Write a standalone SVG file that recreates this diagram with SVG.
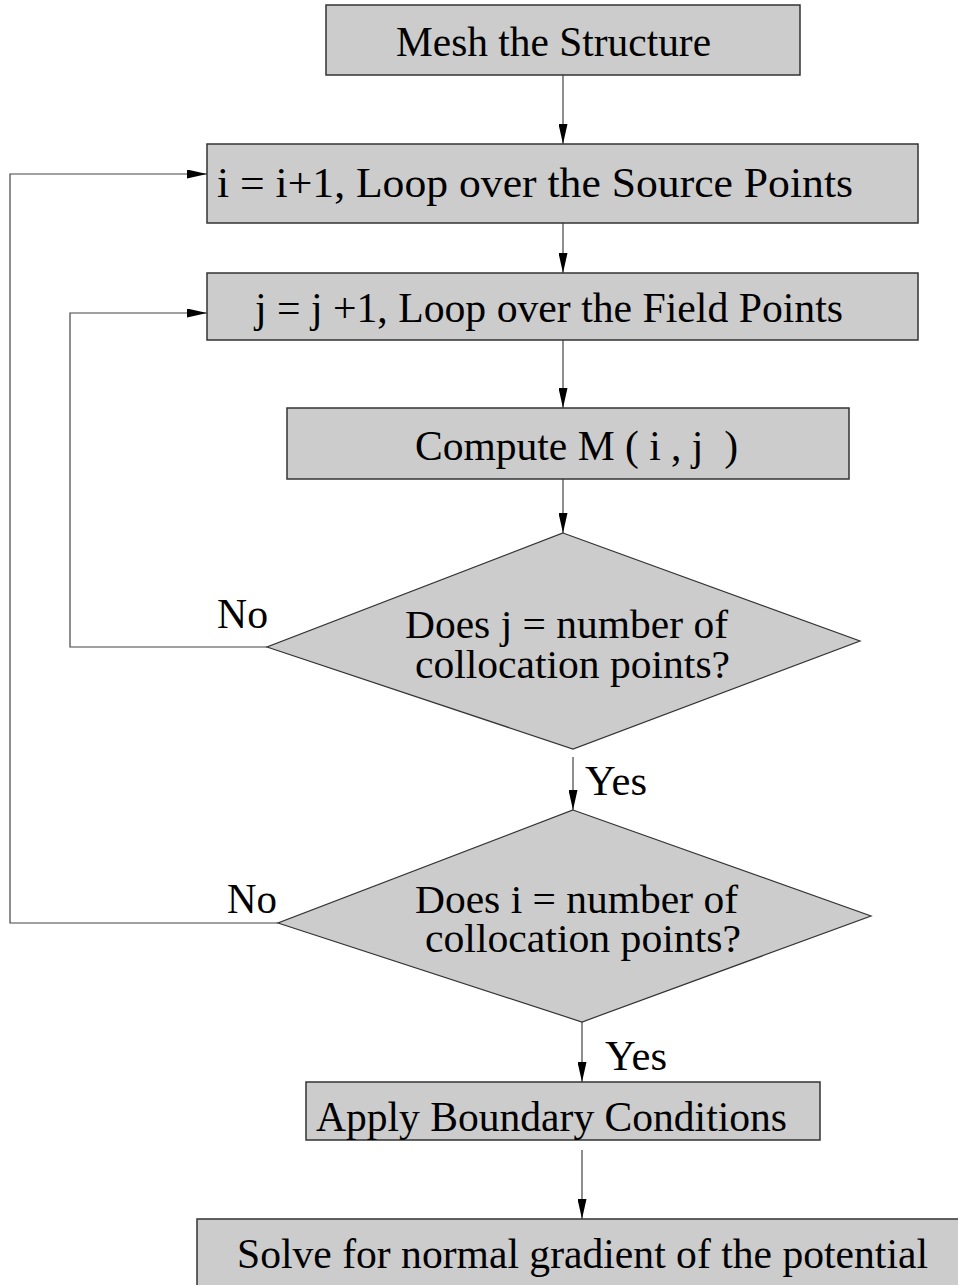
<svg xmlns="http://www.w3.org/2000/svg" width="958" height="1285" viewBox="0 0 958 1285">
  <style>
    .box { fill: #cccccc; stroke: #333333; stroke-width: 1.5; }
    .dia { fill: #cccccc; stroke: #333333; stroke-width: 1.2; }
    .lbl { font-family: "Liberation Serif", "Times New Roman", serif; font-size: 42px; fill: #000000; white-space: pre; }
    .q { font-size: 39px; }
    .edge { fill: none; stroke: #444444; stroke-width: 1.2; }
  </style>
  <defs>
    <marker id="arrow" viewBox="0 0 20 9" refX="20" refY="4.5" markerWidth="20" markerHeight="9" markerUnits="userSpaceOnUse" orient="auto">
      <path d="M0,0 L20,4.5 L0,9 Z" fill="#000000"/>
    </marker>
  </defs>
  <rect width="958" height="1285" fill="#ffffff"/>

  <!-- connectors -->
  <g id="connectors">
    <path class="edge" d="M563,75 L563,144" marker-end="url(#arrow)"/>
    <path class="edge" d="M563,223 L563,273" marker-end="url(#arrow)"/>
    <path class="edge" d="M563,340 L563,408" marker-end="url(#arrow)"/>
    <path class="edge" d="M563,479 L563,533" marker-end="url(#arrow)"/>
    <path class="edge" d="M267,647 L70,647 L70,313 L207,313" marker-end="url(#arrow)"/>
    <path class="edge" d="M573,757 L573,810" marker-end="url(#arrow)"/>
    <path class="edge" d="M278,923 L10,923 L10,174 L207,174" marker-end="url(#arrow)"/>
    <path class="edge" d="M582,1022 L582,1082" marker-end="url(#arrow)"/>
    <path class="edge" d="M582,1150 L582,1219" marker-end="url(#arrow)"/>
  </g>

  <!-- process steps -->
  <g id="mesh">
    <rect class="box" x="326" y="5" width="474" height="70"/>
    <text class="lbl" x="396" y="56" textLength="315" lengthAdjust="spacingAndGlyphs">Mesh the Structure</text>
  </g>
  <g id="source-loop">
    <rect class="box" x="207" y="144" width="711" height="79"/>
    <text class="lbl" x="217" y="197" textLength="636" lengthAdjust="spacingAndGlyphs">i = i+1, Loop over the Source Points</text>
  </g>
  <g id="field-loop">
    <rect class="box" x="207" y="273" width="711" height="67"/>
    <text class="lbl" x="255" y="322" textLength="588" lengthAdjust="spacingAndGlyphs">j = j +1, Loop over the Field Points</text>
  </g>
  <g id="compute">
    <rect class="box" x="287" y="408" width="562" height="71"/>
    <text class="lbl" x="415" y="460" textLength="323" lengthAdjust="spacingAndGlyphs" xml:space="preserve">Compute M ( i , j  )</text>
  </g>

  <!-- decisions -->
  <g id="check-j">
    <polygon class="dia" points="563,533 860,641 573,749 267,647"/>
    <text class="lbl q" x="405" y="638" textLength="323" lengthAdjust="spacingAndGlyphs">Does j = number of</text>
    <text class="lbl q" x="415" y="678" textLength="315" lengthAdjust="spacingAndGlyphs">collocation points?</text>
    <text class="lbl" x="217" y="628" textLength="51" lengthAdjust="spacingAndGlyphs">No</text>
    <text class="lbl" x="585" y="795" textLength="62" lengthAdjust="spacingAndGlyphs">Yes</text>
  </g>
  <g id="check-i">
    <polygon class="dia" points="573,810 871,916 582,1022 278,923"/>
    <text class="lbl q" x="415" y="913" textLength="323" lengthAdjust="spacingAndGlyphs">Does i = number of</text>
    <text class="lbl q" x="425" y="952" textLength="316" lengthAdjust="spacingAndGlyphs">collocation points?</text>
    <text class="lbl" x="227" y="913" textLength="50" lengthAdjust="spacingAndGlyphs">No</text>
    <text class="lbl" x="605" y="1070" textLength="62" lengthAdjust="spacingAndGlyphs">Yes</text>
  </g>

  <g id="boundary">
    <rect class="box" x="306" y="1082" width="514" height="58"/>
    <text class="lbl" x="316" y="1131" textLength="471" lengthAdjust="spacingAndGlyphs">Apply Boundary Conditions</text>
  </g>
  <g id="solve">
    <rect class="box" x="197" y="1219" width="770" height="80"/>
    <text class="lbl" x="237" y="1268" textLength="691" lengthAdjust="spacingAndGlyphs">Solve for normal gradient of the potential</text>
  </g>
</svg>
